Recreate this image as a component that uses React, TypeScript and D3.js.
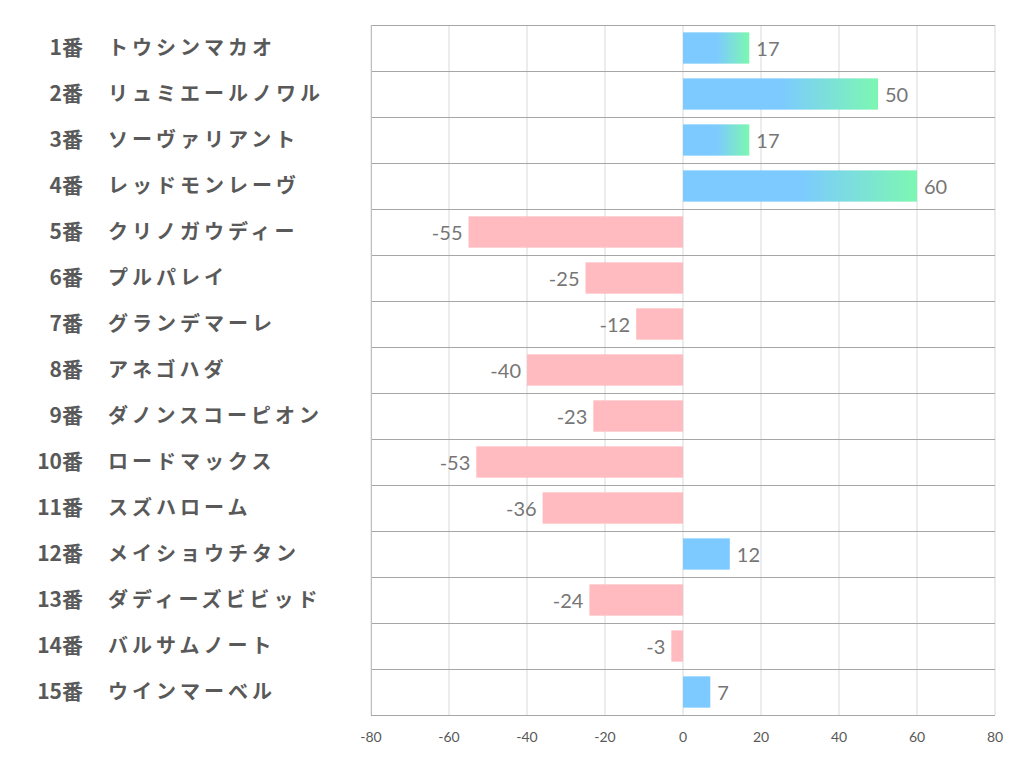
import React from "react";
import * as d3 from "d3";

const numbers = ["1番","2番","3番","4番","5番","6番","7番","8番","9番","10番","11番","12番","13番","14番","15番"];
const names = ["トウシンマカオ","リュミエールノワル","ソーヴァリアント","レッドモンレーヴ","クリノガウディー","プルパレイ","グランデマーレ","アネゴハダ","ダノンスコーピオン","ロードマックス","スズハローム","メイショウチタン","ダディーズビビッド","バルサムノート","ウインマーベル"];
const values = [17, 50, 17, 60, -55, -25, -12, -40, -23, -53, -36, 12, -24, -3, 7];
const ticks = [-80, -60, -40, -20, 0, 20, 40, 60, 80];

const W = 1022, H = 782;
const left = 371, right = 995, top = 25, bottom = 715;

export default function App() {
  const x = d3.scaleLinear().domain([-80, 80]).range([left, right]);
  const y = d3.scaleBand<number>().domain(d3.range(values.length)).range([top, bottom]).paddingInner(0.32).paddingOuter(0.16);
  const step = y.step();
  const labelFont = "'Noto Sans CJK JP', sans-serif";
  const numFont = "Lato, 'Open Sans', sans-serif";
  return (
    <svg width={W} height={H} style={{ position: "absolute", left: 0, top: 0, background: "#fff" }}>
      <defs>
        <linearGradient id="pos" x1="0" x2="1" y1="0" y2="0">
          <stop offset="0" stopColor="#7ccaff" />
          <stop offset="0.5" stopColor="#7ccaff" />
          <stop offset="1" stopColor="#7cf7b2" />
        </linearGradient>
      </defs>
      {ticks.map(t => (
        <line key={"v" + t} x1={x(t)} x2={x(t)} y1={top} y2={bottom} stroke="#d9d9d9" strokeWidth={1} />
      ))}
      {values.map((_, i) => (
        <line key={"h" + i} x1={left} x2={right} y1={top + i * step + 0.5} y2={top + i * step + 0.5} stroke="#a6a6a6" strokeWidth={1} />
      ))}
      <line x1={left} x2={right} y1={bottom + 0.5} y2={bottom + 0.5} stroke="#a6a6a6" />
      <line x1={left + 0.5} x2={left + 0.5} y1={top} y2={bottom} stroke="#bfbfbf" />
      {values.map((v, i) => {
        const x0 = x(Math.min(0, v)), x1 = x(Math.max(0, v));
        const fill = v < 0 ? "#ffbbbf" : v > 15 ? "url(#pos)" : "#7ccaff";
        return (
          <rect key={"b" + i} x={x0} y={y(i)} width={x1 - x0} height={y.bandwidth()} fill={fill} />
        );
      })}
      {values.map((v, i) => {
        const cy = (y(i) as number) + y.bandwidth() / 2;
        return (
          <text key={"l" + i} x={v >= 0 ? x(v) + 7 : x(v) - 6} y={cy + 8} textAnchor={v >= 0 ? "start" : "end"}
            fontFamily={numFont} fontSize={20} fill="#767676">{v}</text>
        );
      })}
      {values.map((_, i) => {
        const cy = top + i * step + step / 2;
        return (
          <g key={"n" + i}>
            <text x={83} y={cy + 7} textAnchor="end" fontFamily={labelFont} fontWeight="bold" fontSize={21} fill="#595959">{numbers[i]}</text>
            <text x={108} y={cy + 7} textAnchor="start" fontFamily={labelFont} fontWeight="bold" fontSize={20} fill="#595959" letterSpacing={4}>{names[i]}</text>
          </g>
        );
      })}
      {ticks.map(t => (
        <text key={"t" + t} x={x(t)} y={742} textAnchor="middle" fontFamily={numFont} fontSize={14} fill="#595959">{t}</text>
      ))}
    </svg>
  );
}
